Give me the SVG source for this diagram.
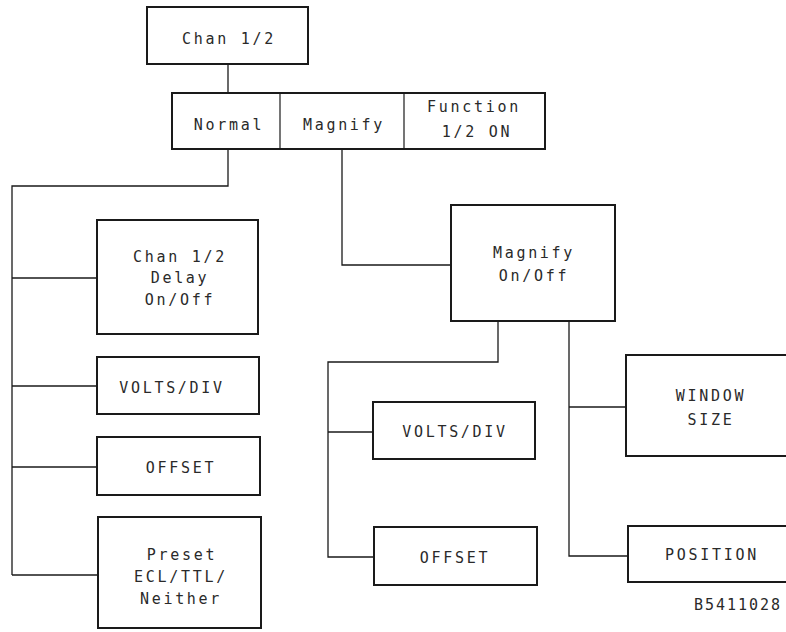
<svg xmlns="http://www.w3.org/2000/svg" width="786" height="632" viewBox="0 0 786 632">
<style>
  .box { fill: #ffffff; stroke: #1a1a1a; stroke-width: 2; }
  .div { stroke: #1a1a1a; stroke-width: 1.2; fill: none; }
  .con { stroke: #1a1a1a; stroke-width: 1.3; fill: none; }
  text { font-family: "DejaVu Sans Mono", "Liberation Mono", monospace; font-size: 15px; letter-spacing: 2.7px; fill: #2a2a2a; text-anchor: middle; }
  .id { letter-spacing: 2px; }
</style>
<rect width="786" height="632" fill="#ffffff"/>
<g id="connectors">
  <path class="con" d="M228 64 V93"/>
  <path class="con" d="M228 150 V186 H12 V575"/>
  <path class="con" d="M12 278 H97"/>
  <path class="con" d="M12 386 H97"/>
  <path class="con" d="M12 467 H97"/>
  <path class="con" d="M12 575 H98"/>
  <path class="con" d="M342 150 V265 H451"/>
  <path class="con" d="M498 321 V362 H328 V557 H374"/>
  <path class="con" d="M328 432 H373"/>
  <path class="con" d="M569 321 V556 H628"/>
  <path class="con" d="M569 407 H626"/>
</g>
<g id="chan12">
  <rect class="box" x="147" y="7" width="161" height="57"/>
  <text x="229" y="44">Chan 1/2</text>
</g>
<g id="modebar">
  <rect class="box" x="172" y="93" width="373" height="56"/>
  <line class="div" x1="280" y1="93" x2="280" y2="149"/>
  <line class="div" x1="404" y1="93" x2="404" y2="149"/>
  <g id="normal"><text x="229" y="130">Normal</text></g>
  <g id="magnify"><text x="344" y="130">Magnify</text></g>
  <g id="function"><text x="474" y="112">Function</text><text x="477" y="137">1/2 ON</text></g>
</g>
<g id="delay">
  <rect class="box" x="97" y="220" width="161" height="114"/>
  <text x="180" y="262">Chan 1/2</text>
  <text x="180" y="283">Delay</text>
  <text x="180" y="305">On/Off</text>
</g>
<g id="voltsdiv1">
  <rect class="box" x="97" y="357" width="162" height="57"/>
  <text x="172" y="393">VOLTS/DIV</text>
</g>
<g id="offset1">
  <rect class="box" x="97" y="437" width="163" height="58"/>
  <text x="181" y="473">OFFSET</text>
</g>
<g id="preset">
  <rect class="box" x="98" y="517" width="163" height="111"/>
  <text x="182" y="560">Preset</text>
  <text x="181" y="582">ECL/TTL/</text>
  <text x="181" y="604">Neither</text>
</g>
<g id="magonoff">
  <rect class="box" x="451" y="205" width="164" height="116"/>
  <text x="534" y="258">Magnify</text>
  <text x="534" y="281">On/Off</text>
</g>
<g id="voltsdiv2">
  <rect class="box" x="373" y="402" width="162" height="57"/>
  <text x="455" y="437">VOLTS/DIV</text>
</g>
<g id="offset2">
  <rect class="box" x="374" y="527" width="163" height="58"/>
  <text x="455" y="563">OFFSET</text>
</g>
<g id="windowsize">
  <rect class="box" x="626" y="355" width="180" height="101"/>
  <text x="711" y="401">WINDOW</text>
  <text x="711" y="425">SIZE</text>
</g>
<g id="position">
  <rect class="box" x="628" y="526" width="180" height="56"/>
  <text x="712" y="560">POSITION</text>
</g>
<text class="id" x="738" y="610">B5411028</text>
</svg>
